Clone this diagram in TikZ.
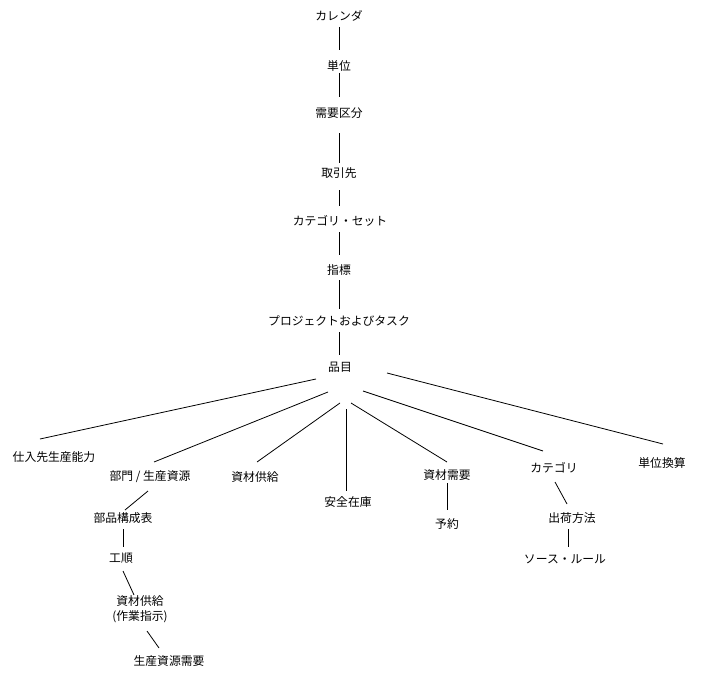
\documentclass[tikz,border=0pt]{standalone}
\usepackage{fontspec}
\setmainfont{Noto Sans CJK JP}
\begin{document}
\begin{tikzpicture}[x=1pt,y=-1pt,
  lbl/.style={inner sep=0pt, font=\fontsize{11.8}{15}\selectfont, align=center},
  conn/.style={line width=0.8pt, black}]
\useasboundingbox[fill=white] (0,0) rectangle (713,677);
% top chain
\node[lbl] (cal)    at (339,16)  {カレンダ};
\node[lbl] (tan)    at (339,66)  {単位};
\node[lbl] (juyo)   at (339,113) {需要区分};
\node[lbl] (tori)   at (339,173) {取引先};
\node[lbl] (catset) at (340,221) {カテゴリ・セット};
\node[lbl] (shihyo) at (339,270) {指標};
\node[lbl] (proj)   at (339,321) {プロジェクトおよびタスク};
\node[lbl] (hin)    at (340,367) {品目};
% second level
\node[lbl] (shiire) at (54,457)  {仕入先生産能力};
\node[lbl] (bumon)  at (150,477) {部門 / 生産資源};
\node[lbl] (shizai) at (255,477) {資材供給};
\node[lbl] (anzen)  at (348,502) {安全在庫};
\node[lbl] (jmd)    at (447,475) {資材需要};
\node[lbl] (cat)    at (554,468) {カテゴリ};
\node[lbl] (tani2)  at (662,463) {単位換算};
% lower levels
\node[lbl] (yoyaku) at (447,524) {予約};
\node[lbl] (shukka) at (572,518) {出荷方法};
\node[lbl] (source) at (565,559) {ソース・ルール};
\node[lbl] (buhin)  at (123,518) {部品構成表};
\node[lbl] (kojun)  at (121,558) {工順};
\node[lbl] (shizai2) at (140,609) {資材供給\\(作業指示)};
\node[lbl] (seisan) at (169,661) {生産資源需要};
% top chain connectors
\draw[conn] ([shift={(0,11)}]cal.center) -- ([shift={(0,-16)}]tan.center);
\draw[conn] ([shift={(0,7)}]tan.center) -- ([shift={(0,-16)}]juyo.center);
\draw[conn] ([shift={(0,20)}]juyo.center) -- ([shift={(0,-10)}]tori.center);
\draw[conn] ([shift={(0,17)}]tori.center) -- ([shift={(-1,-15)}]catset.center);
\draw[conn] ([shift={(-1,11)}]catset.center) -- ([shift={(0,-15)}]shihyo.center);
\draw[conn] ([shift={(0,10)}]shihyo.center) -- ([shift={(0,-12)}]proj.center);
\draw[conn] ([shift={(0,11)}]proj.center) -- ([shift={(-1,-12)}]hin.center);
% fan from 品目
\draw[conn] ([shift={(-24,12)}]hin.center) -- ([shift={(-14,-18)}]shiire.center);
\draw[conn] ([shift={(-12,25)}]hin.center) -- ([shift={(4,-15)}]bumon.center);
\draw[conn] ([shift={(0,36)}]hin.center) -- ([shift={(2,-15)}]shizai.center);
\draw[conn] ([shift={(6,42)}]hin.center) -- ([shift={(-2,-11)}]anzen.center);
\draw[conn] ([shift={(11,36)}]hin.center) -- ([shift={(0,-13)}]jmd.center);
\draw[conn] ([shift={(23,24)}]hin.center) -- ([shift={(-11,-17)}]cat.center);
\draw[conn] ([shift={(47,6)}]hin.center) -- ([shift={(1,-19)}]tani2.center);
% right branches
\draw[conn] ([shift={(0,8)}]jmd.center) -- ([shift={(0,-14)}]yoyaku.center);
\draw[conn] ([shift={(1,14)}]cat.center) -- ([shift={(-5,-14)}]shukka.center);
\draw[conn] ([shift={(-4,11)}]shukka.center) -- ([shift={(3,-12)}]source.center);
% left branch
\draw[conn] ([shift={(-2,14)}]bumon.center) -- ([shift={(2,-8)}]buhin.center);
\draw[conn] ([shift={(0,11)}]buhin.center) -- ([shift={(2,-11)}]kojun.center);
\draw[conn] ([shift={(2,13)}]kojun.center) -- ([shift={(-6,-14)}]shizai2.center);
\draw[conn] ([shift={(7,22)}]shizai2.center) -- ([shift={(-10,-13)}]seisan.center);
\end{tikzpicture}
\end{document}
